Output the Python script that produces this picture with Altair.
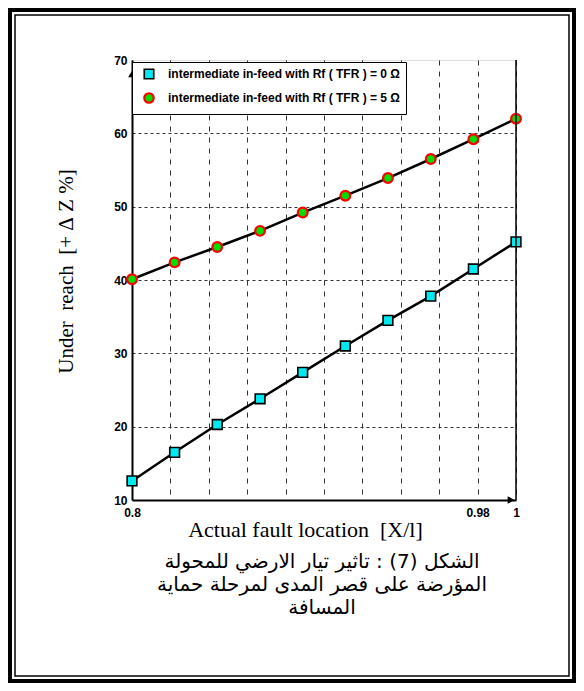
import altair as alt
import pandas as pd

# ---- data ----
X_POS = [0.8, 0.8222, 0.8444, 0.8667, 0.8889, 0.9111, 0.9333, 0.9556, 0.9778, 1.0]
Y_RF0 = [12.6, 16.5, 20.3, 23.8, 27.4, 31.0, 34.5, 37.8, 41.5, 45.2]
Y_RF5 = [40.1, 42.4, 44.5, 46.7, 49.2, 51.5, 53.9, 56.5, 59.2, 62.0]
SERIES = [
    "intermediate in-feed with Rf ( TFR ) = 0 \u03a9",
    "intermediate in-feed with Rf ( TFR ) = 5 \u03a9",
]
X_GRID = [0.8, 0.82, 0.84, 0.86, 0.88, 0.9, 0.92, 0.94, 0.96, 0.98, 1.0]
X_LABELED = [0.8, 0.98, 1.0]
Y_TICKS = [10, 20, 30, 40, 50, 60, 70]
NB = "\u00a0"
X_TITLE = f"Actual fault location{NB}{NB}[X/l]"
Y_TITLE = f"Under{NB}{NB}reach{NB}{NB}[+{NB}\u0394{NB}Z{NB}%]"
CAPTION = [
    "الشكل (7) : تاثير تيار الارضي للمحولة",
    "المؤرضة على قصر المدى لمرحلة حماية",
    "المسافة",
]

rows = []
for s, ys in zip(SERIES, [Y_RF0, Y_RF5]):
    for x, y in zip(X_POS, ys):
        rows.append({"x": x, "y": y, "series": s})
df = pd.DataFrame(rows)

SANS = "Liberation Sans, Arial, sans-serif"
SERIF = "Liberation Serif, Times New Roman, serif"

W, H = 384, 440
PL, PT = 124, 52
TOTAL_W, TOTAL_H = 568, 675

label_test = " || ".join(f"datum.value == {v}" for v in X_LABELED)

x_enc = alt.X(
    "x:Q",
    scale=alt.Scale(domain=[0.8, 1.0], nice=False, zero=False),
    axis=alt.Axis(
        values=X_GRID,
        format="~g",
        labelExpr=f"({label_test}) ? datum.label : ''",
        ticks=False,
        labelFlush=False,
        labelOverlap=False,
        labelFont=SANS,
        labelFontSize=12,
        labelFontWeight="bold",
        labelColor="black",
        labelPadding=7,
        domainColor="black",
        domainWidth=2,
        grid=True,
        gridColor="#333333",
        gridDash=[5, 6],
        gridWidth=1,
        title=X_TITLE,
        titleFont=SERIF,
        titleFontSize=22,
        titleFontWeight="normal",
        titleColor="black",
        titleX=173,
        titleY=36,
        titleAlign="center",
        titleBaseline="alphabetic",
    ),
)
y_enc = alt.Y(
    "y:Q",
    scale=alt.Scale(domain=[10, 70], nice=False, zero=False),
    axis=alt.Axis(
        values=Y_TICKS,
        ticks=False,
        labelFont=SANS,
        labelFontSize=12,
        labelFontWeight="bold",
        labelColor="black",
        labelPadding=5,
        domainColor="black",
        domainWidth=2,
        grid=True,
        gridColor="#333333",
        gridDash=[3, 3],
        gridWidth=1,
        gridOpacity=alt.condition("datum.value == 70 || datum.value == 10", alt.value(0), alt.value(1)),
        title=Y_TITLE,
        titleFont=SERIF,
        titleFontSize=21,
        titleFontWeight="normal",
        titleColor="black",
        titleAngle=270,
        titleX=-66,
        titleY=211,
        titleAlign="center",
        titleBaseline="middle",
    ),
)

leg = alt.Legend(
    title=None,
    orient="none",
    legendX=0,
    legendY=2,
    fillColor="white",
    strokeColor="black",
    padding=6,
    rowPadding=6,
    symbolSize=90,
    symbolStrokeWidth=1.5,
    symbolOffset=5,
    labelOffset=13,
    labelFont=SANS,
    labelFontSize=12,
    labelFontWeight="bold",
    labelColor="black",
    labelLimit=400,
)

base = alt.Chart(df)

lines = base.mark_line(color="black", strokeWidth=2.5).encode(
    x=x_enc, y=y_enc, detail="series:N"
)

points = base.mark_point(filled=True, opacity=1, size=95).encode(
    x=x_enc,
    y=y_enc,
    shape=alt.Shape("series:N", scale=alt.Scale(domain=SERIES, range=["square", "circle"]), legend=leg),
    fill=alt.Fill("series:N", scale=alt.Scale(domain=SERIES, range=["#00e8f0", "#00dd00"]), legend=leg),
    stroke=alt.Stroke("series:N", scale=alt.Scale(domain=SERIES, range=["black", "#ff0000"]), legend=leg),
    strokeWidth=alt.StrokeWidth("series:N", scale=alt.Scale(domain=SERIES, range=[1.6, 2.2]), legend=None),
)

one = alt.Data(values=[{"k": 1}])

right_border = alt.Chart(one).mark_rule(color="black", strokeWidth=1.5).encode(
    x=alt.value(W), y=alt.value(0), y2=alt.value(H)
)
arrow_up = alt.Chart(one).mark_point(shape="triangle-up", filled=True, color="black", opacity=1, size=60).encode(
    x=alt.value(0), y=alt.value(14)
)
arrow_right = alt.Chart(one).mark_point(shape="triangle-right", filled=True, color="black", opacity=1, size=60).encode(
    x=alt.value(W - 5), y=alt.value(H)
)
frame_outer = alt.Chart(one).mark_rect(fillOpacity=0, stroke="black", strokeWidth=4).encode(
    x=alt.value(-PL + 2), x2=alt.value(TOTAL_W - PL - 2),
    y=alt.value(-PT + 2), y2=alt.value(TOTAL_H - PT - 2),
)
frame_inner = alt.Chart(one).mark_rect(fillOpacity=0, stroke="black", strokeWidth=1.5).encode(
    x=alt.value(-PL + 7), x2=alt.value(TOTAL_W - PL - 7),
    y=alt.value(-PT + 7), y2=alt.value(TOTAL_H - PT - 7),
)
caption = alt.Chart(one).mark_text(
    text=CAPTION,
    font="DejaVu Sans",
    fontSize=20,
    lineHeight=23,
    align="center",
    baseline="top",
    color="black",
).encode(x=alt.value(190), y=alt.value(492))

chart = alt.layer(
    frame_outer, frame_inner, lines, points, right_border, arrow_up, arrow_right, caption
).properties(
    width=W,
    height=H,
    autosize="none",
    padding={"left": PL, "top": PT, "right": TOTAL_W - PL - W, "bottom": TOTAL_H - PT - H},
).configure_view(stroke=None).configure(background="white")

chart.save("out.html", embed_options={"renderer": "svg", "actions": False})
